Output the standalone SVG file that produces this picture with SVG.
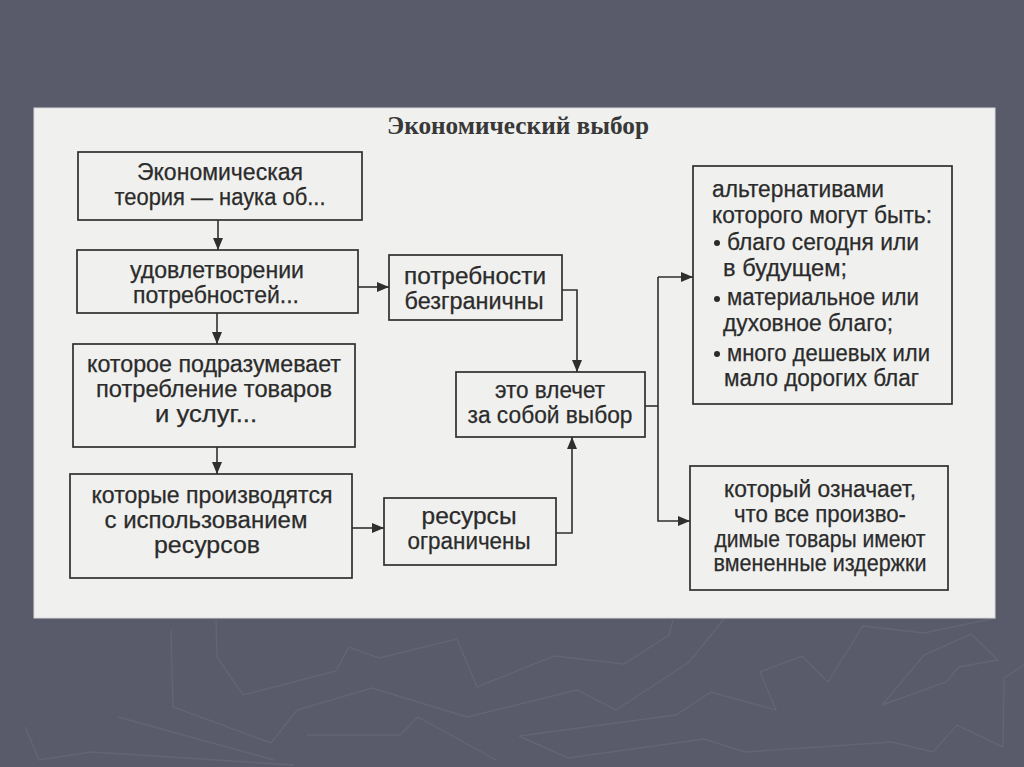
<svg xmlns="http://www.w3.org/2000/svg" width="1024" height="767" viewBox="0 0 1024 767">
<defs>
<style>
.bg{fill:#595b6a}
.deco{fill:none;stroke:#636574;stroke-width:1.4;stroke-linejoin:miter}
.panel{fill:#f0f0ee;stroke:#d8d8dc;stroke-width:1}
.box{fill:none;stroke:#2f2f2f;stroke-width:1.7}
.t{font-family:"Liberation Sans",Arial,sans-serif;font-size:23px;fill:#2b2b2b;stroke:#2b2b2b;stroke-width:0.25}
.c{text-anchor:middle}
.title{font-family:"Liberation Serif","Times New Roman",serif;font-size:25px;font-weight:bold;fill:#383838;text-anchor:middle}
.conn{fill:none;stroke:#2f2f2f;stroke-width:1.6}
.dot{fill:#2b2b2b}
</style>
<marker id="ah" viewBox="0 0 12 10" refX="12" refY="5" markerWidth="12" markerHeight="10" markerUnits="userSpaceOnUse" orient="auto">
<path d="M0,0 L12,5 L0,10 z" fill="#2f2f2f"/>
</marker>
</defs>
<rect class="bg" x="0" y="0" width="1024" height="767"/>
<g id="background-decoration">
<polyline class="deco" points="216,620 217,657 243,695 336,671 349,647 379,658 457,639 477,687 554,656 624,664 669,635 673,620"/>
<polyline class="deco" points="171,630 173,707 271,743 297,710 372,688 467,717 577,690 616,710 689,662 725,618"/>
<polyline class="deco" points="118,717 274,760"/>
<polyline class="deco" points="25,727 39,760 91,752 294,765"/>
<polyline class="deco" points="307,735 400,735 418,717 496,760"/>
<polyline class="deco" points="519,736 568,758 704,739 745,752 892,742 933,752 957,725 1003,747"/>
<polyline class="deco" points="519,736 676,715 711,692 776,710 760,672 802,656 828,682 863,626 924,633 996,618"/>
<polyline class="deco" points="882,705 924,655 971,634 998,660 959,667 946,682 882,705"/>
<polyline class="deco" points="1003,747 1004,678 1024,665"/>
</g>
<rect class="panel" x="34" y="108" width="961" height="510"/>
<text class="title" x="518" y="134" textLength="262" lengthAdjust="spacingAndGlyphs">Экономический выбор</text>
<g id="connectors">
<line class="conn" x1="218" y1="220" x2="218" y2="250" marker-end="url(#ah)"/>
<line class="conn" x1="217" y1="313" x2="217" y2="344" marker-end="url(#ah)"/>
<line class="conn" x1="217" y1="447" x2="217" y2="474" marker-end="url(#ah)"/>
<line class="conn" x1="358" y1="287" x2="389" y2="287" marker-end="url(#ah)"/>
<polyline class="conn" points="562,290 577,290 577,372" marker-end="url(#ah)"/>
<line class="conn" x1="352" y1="528" x2="384" y2="528" marker-end="url(#ah)"/>
<polyline class="conn" points="556,533 572,533 572,437" marker-end="url(#ah)"/>
<line class="conn" x1="645" y1="406" x2="658" y2="406"/>
<polyline class="conn" points="658,277 658,521 690,521" marker-end="url(#ah)"/>
<polyline class="conn" points="658,277 693,277" marker-end="url(#ah)"/>
</g>
<g id="n1">
<rect class="box" x="78" y="152" width="284" height="68"/>
<text class="t c" x="220" y="180" textLength="166" lengthAdjust="spacingAndGlyphs">Экономическая</text>
<text class="t c" x="220" y="205" textLength="211" lengthAdjust="spacingAndGlyphs">теория — наука об...</text>
</g>
<g id="n2">
<rect class="box" x="77" y="250" width="281" height="63"/>
<text class="t c" x="217" y="278" textLength="174" lengthAdjust="spacingAndGlyphs">удовлетворении</text>
<text class="t c" x="216" y="303" textLength="166" lengthAdjust="spacingAndGlyphs">потребностей...</text>
</g>
<g id="n3">
<rect class="box" x="73" y="344" width="282" height="103"/>
<text class="t c" x="214" y="372" textLength="254" lengthAdjust="spacingAndGlyphs">которое подразумевает</text>
<text class="t c" x="214" y="397" textLength="236" lengthAdjust="spacingAndGlyphs">потребление товаров</text>
<text class="t c" x="206" y="422" textLength="102" lengthAdjust="spacingAndGlyphs">и услуг...</text>
</g>
<g id="n4">
<rect class="box" x="70" y="474" width="282" height="104"/>
<text class="t c" x="212" y="503" textLength="241" lengthAdjust="spacingAndGlyphs">которые производятся</text>
<text class="t c" x="206" y="528" textLength="203" lengthAdjust="spacingAndGlyphs">с использованием</text>
<text class="t c" x="207" y="553" textLength="106" lengthAdjust="spacingAndGlyphs">ресурсов</text>
</g>
<g id="n5">
<rect class="box" x="389" y="255" width="173" height="65"/>
<text class="t c" x="475" y="284" textLength="142" lengthAdjust="spacingAndGlyphs">потребности</text>
<text class="t c" x="474" y="309" textLength="139" lengthAdjust="spacingAndGlyphs">безграничны</text>
</g>
<g id="n6">
<rect class="box" x="456" y="372" width="189" height="65"/>
<text class="t c" x="550" y="398" textLength="110" lengthAdjust="spacingAndGlyphs">это влечет</text>
<text class="t c" x="550" y="423" textLength="165" lengthAdjust="spacingAndGlyphs">за собой выбор</text>
</g>
<g id="n7">
<rect class="box" x="384" y="498" width="172" height="67"/>
<text class="t c" x="469" y="524" textLength="95" lengthAdjust="spacingAndGlyphs">ресурсы</text>
<text class="t c" x="469" y="549" textLength="123" lengthAdjust="spacingAndGlyphs">ограничены</text>
</g>
<g id="n8">
<rect class="box" x="693" y="166" width="259" height="238"/>
<text class="t" x="712" y="197" textLength="172" lengthAdjust="spacingAndGlyphs">альтернативами</text>
<text class="t" x="712" y="223" textLength="220" lengthAdjust="spacingAndGlyphs">которого могут быть:</text>
<circle class="dot" cx="717" cy="243" r="3"/>
<text class="t" x="727" y="250" textLength="192" lengthAdjust="spacingAndGlyphs">благо сегодня или</text>
<text class="t" x="723" y="276" textLength="124" lengthAdjust="spacingAndGlyphs">в будущем;</text>
<circle class="dot" cx="717" cy="299" r="3"/>
<text class="t" x="727" y="305" textLength="192" lengthAdjust="spacingAndGlyphs">материальное или</text>
<text class="t" x="723" y="331" textLength="170" lengthAdjust="spacingAndGlyphs">духовное благо;</text>
<circle class="dot" cx="717" cy="354" r="3"/>
<text class="t" x="727" y="361" textLength="203" lengthAdjust="spacingAndGlyphs">много дешевых или</text>
<text class="t" x="724" y="386" textLength="195" lengthAdjust="spacingAndGlyphs">мало дорогих благ</text>
</g>
<g id="n9">
<rect class="box" x="690" y="466" width="258" height="124"/>
<text class="t c" x="820" y="497" textLength="192" lengthAdjust="spacingAndGlyphs">который означает,</text>
<text class="t c" x="820" y="522" textLength="172" lengthAdjust="spacingAndGlyphs">что все произво-</text>
<text class="t c" x="820" y="547" textLength="211" lengthAdjust="spacingAndGlyphs">димые товары имеют</text>
<text class="t c" x="820" y="571" textLength="213" lengthAdjust="spacingAndGlyphs">вмененные издержки</text>
</g>
</svg>
